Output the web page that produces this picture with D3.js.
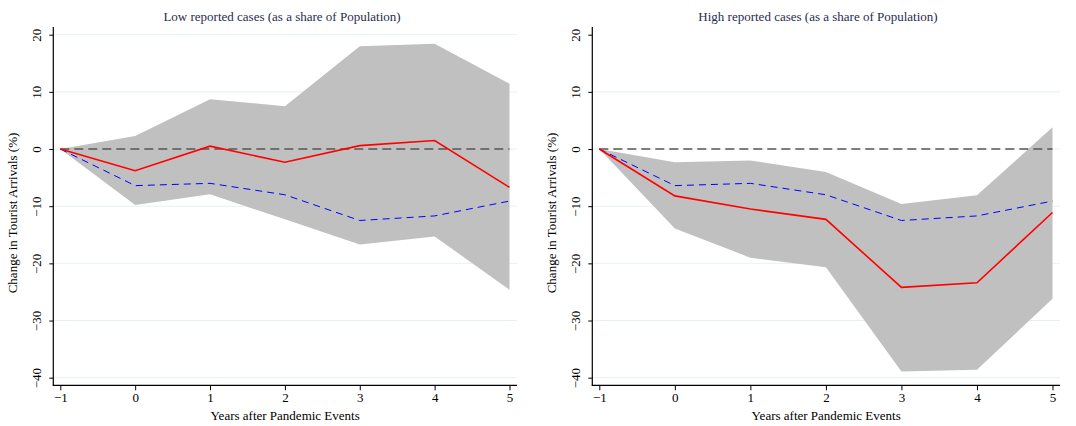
<!DOCTYPE html>
<html>
<head>
<meta charset="utf-8">
<script src="https://cdn.jsdelivr.net/npm/d3@7"></script>
<style>
  body { margin: 0; background: #fff; }
  svg { display: block; font-family: "Liberation Serif", "DejaVu Serif", serif; }
</style>
</head>
<body>
<svg id="chart" width="1076" height="426"></svg>
<script>
// years relative to the event
const years = [-1, 0, 1, 2, 3, 4, 5];
const yTicks = [-40, -30, -20, -10, 0, 10, 20];

// baseline response (blue dashed), same in both panels
const baseline = [0, -6.4, -6.0, -8.0, -12.5, -11.7, -9.1];

// low reported cases
const lowEstimate = [0, -3.8, 0.5, -2.3, 0.6, 1.5, -6.7];
const lowUpper = [0, 2.3, 8.7, 7.5, 18.0, 18.4, 11.4];
const lowLower = [0, -9.8, -7.9, -12.3, -16.7, -15.3, -24.6];

// high reported cases
const highEstimate = [0, -8.2, -10.5, -12.3, -24.2, -23.4, -11.1];
const highUpper = [0, -2.3, -2.0, -4.0, -9.6, -8.1, 3.8];
const highLower = [0, -13.9, -19.0, -20.7, -38.9, -38.6, -26.2];

const svg = d3.select('#chart');

function drawPanel (opts) {
  const x = d3.scaleLinear().domain([-1, 5]).range([opts.left + 7, opts.right - 7.5]);
  const y = d3.scaleLinear().domain([-40, 20]).range([377.7, 34.7]);
  const g = svg.append('g');

  // light grid lines
  g.selectAll('line.grid')
    .data(yTicks.filter(d => opts.topGrid || d !== 20))
    .enter().append('line')
    .attr('class', 'grid')
    .attr('x1', opts.left).attr('x2', opts.right)
    .attr('y1', d => y(d)).attr('y2', d => y(d))
    .attr('stroke', '#e8f1f2').attr('stroke-width', 1);

  const rows = years.map((yr, i) => ({
    yr: yr, est: opts.estimate[i], lo: opts.lower[i], hi: opts.upper[i], base: baseline[i]
  }));

  // confidence band
  g.append('path')
    .datum(rows)
    .attr('fill', '#c0c0c0')
    .attr('d', d3.area().x(d => x(d.yr)).y0(d => y(d.lo)).y1(d => y(d.hi)));

  // zero line
  g.append('line')
    .attr('x1', x(-1)).attr('x2', x(5))
    .attr('y1', y(0)).attr('y2', y(0))
    .attr('stroke', '#555').attr('stroke-width', 1.6)
    .attr('stroke-dasharray', '9,5');

  // baseline (blue dashed)
  g.append('path')
    .datum(rows)
    .attr('fill', 'none')
    .attr('stroke', '#0000ff').attr('stroke-width', 1)
    .attr('stroke-dasharray', '7,5')
    .attr('d', d3.line().x(d => x(d.yr)).y(d => y(d.base)));

  // estimate (red)
  g.append('path')
    .datum(rows)
    .attr('fill', 'none')
    .attr('stroke', '#ff0000').attr('stroke-width', 1.6)
    .attr('d', d3.line().x(d => x(d.yr)).y(d => y(d.est)));

  // axes
  const xAxis = g.append('g')
    .attr('transform', 'translate(0,385.3)')
    .call(d3.axisBottom(x).tickValues(years).tickSize(5).tickPadding(2).tickFormat(d => d < 0 ? '\u2212' + Math.abs(d) : d));
  xAxis.select('.domain').remove();
  xAxis.append('line')
    .attr('x1', opts.left - 0.5).attr('x2', opts.right)
    .attr('stroke', '#000').attr('stroke-width', 1.2);

  const yAxis = g.append('g')
    .attr('transform', 'translate(' + opts.left + ',0)')
    .call(d3.axisLeft(y).tickValues(yTicks).tickSize(4).tickPadding(0).tickFormat(d => d < 0 ? '\u2212' + Math.abs(d) : d));
  yAxis.select('.domain').remove();
  yAxis.append('line')
    .attr('y1', 27).attr('y2', 385.8)
    .attr('stroke', '#000').attr('stroke-width', 1.2);
  yAxis.selectAll('.tick text')
    .attr('transform', 'rotate(-90)')
    .attr('x', 0).attr('y', -12)
    .attr('dy', 0)
    .attr('text-anchor', 'middle');

  g.selectAll('.tick text').attr('fill', '#000').style('font-size', '13px').style('font-family', '"Liberation Serif", serif');
  g.selectAll('.tick line').attr('stroke', '#000');

  // titles
  g.append('text')
    .attr('x', opts.titleX).attr('y', 21)
    .attr('text-anchor', 'middle')
    .attr('fill', '#1f2d50')
    .style('font-size', '13px')
    .text(opts.title);

  g.append('text')
    .attr('x', (opts.left + opts.right) / 2).attr('y', 420)
    .attr('text-anchor', 'middle')
    .attr('fill', '#000')
    .style('font-size', '13px')
    .text('Years after Pandemic Events');

  g.append('text')
    .attr('transform', 'translate(' + (opts.left - 36) + ',213) rotate(-90)')
    .attr('text-anchor', 'middle')
    .attr('fill', '#000')
    .style('font-size', '13px')
    .text('Change in Tourist Arrivals (%)');
}

drawPanel({
  left: 53.3, right: 517, titleX: 282, topGrid: true,
  title: 'Low reported cases (as a share of Population)',
  estimate: lowEstimate, upper: lowUpper, lower: lowLower
});

drawPanel({
  left: 592.3, right: 1060, titleX: 818, topGrid: false,
  title: 'High reported cases (as a share of Population)',
  estimate: highEstimate, upper: highUpper, lower: highLower
});
</script>
</body>
</html>
